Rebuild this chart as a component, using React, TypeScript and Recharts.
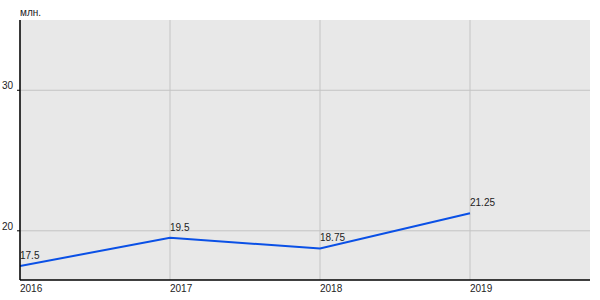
import React from "react";
import { LineChart, Line, XAxis, YAxis, CartesianGrid, LabelList } from "recharts";

const years = [2016, 2017, 2018, 2019];
const values = [17.5, 19.5, 18.75, 21.25];
const yTicks = [20, 30];
const unitLabel = "млн.";

const data = years.map((y, i) => ({ year: y, value: values[i] }));

const FONT = "Liberation Sans, Arial, sans-serif";

const XTick = (props: any) => {
  const { x, payload } = props;
  return (
    <text x={x} y={292} textAnchor="start" fontSize={10} fontFamily={FONT} fill="#222">
      {payload.value}
    </text>
  );
};

const YTick = (props: any) => {
  const { x, y, payload } = props;
  return (
    <text x={x - 2} y={y - 1} textAnchor="end" fontSize={10} fontFamily={FONT} fill="#222">
      {payload.value}
    </text>
  );
};

const PointLabel = (props: any) => {
  const { x, y, value } = props;
  return (
    <text x={x} y={y - 7} textAnchor="start" fontSize={10} fontFamily={FONT} fill="#222">
      {value}
    </text>
  );
};

export default function App() {
  return (
    <div style={{ position: "absolute", left: 0, top: 0, width: 600, height: 300, background: "#fff" }}>
      <LineChart width={600} height={300} data={data} margin={{ top: 20, right: 10, bottom: 0, left: 0 }}>
        <CartesianGrid fill="#e8e8e8" stroke="#c4c4c4" strokeWidth={1} horizontalValues={yTicks} verticalValues={years} />
        <XAxis
          dataKey="year"
          type="number"
          domain={[2016, 2019.8]}
          ticks={years}
          height={20}
          tickLine={false}
          axisLine={{ stroke: "#000", strokeWidth: 1.5 }}
          tick={<XTick />}
          allowDataOverflow
        />
        <YAxis
          type="number"
          domain={[16.5, 35]}
          ticks={yTicks}
          width={20}
          tickSize={3}
          tickLine={{ stroke: "#000" }}
          axisLine={{ stroke: "#000", strokeWidth: 1.5 }}
          tick={<YTick />}
          allowDataOverflow
        />
        <Line
          type="linear"
          dataKey="value"
          stroke="#0a50e6"
          strokeWidth={2}
          dot={false}
          isAnimationActive={false}
        >
          <LabelList dataKey="value" content={<PointLabel />} />
        </Line>
      </LineChart>
      <div
        style={{
          position: "absolute",
          left: 20,
          top: 7,
          fontSize: 10,
          fontFamily: FONT,
          color: "#222",
        }}
      >
        {unitLabel}
      </div>
    </div>
  );
}
